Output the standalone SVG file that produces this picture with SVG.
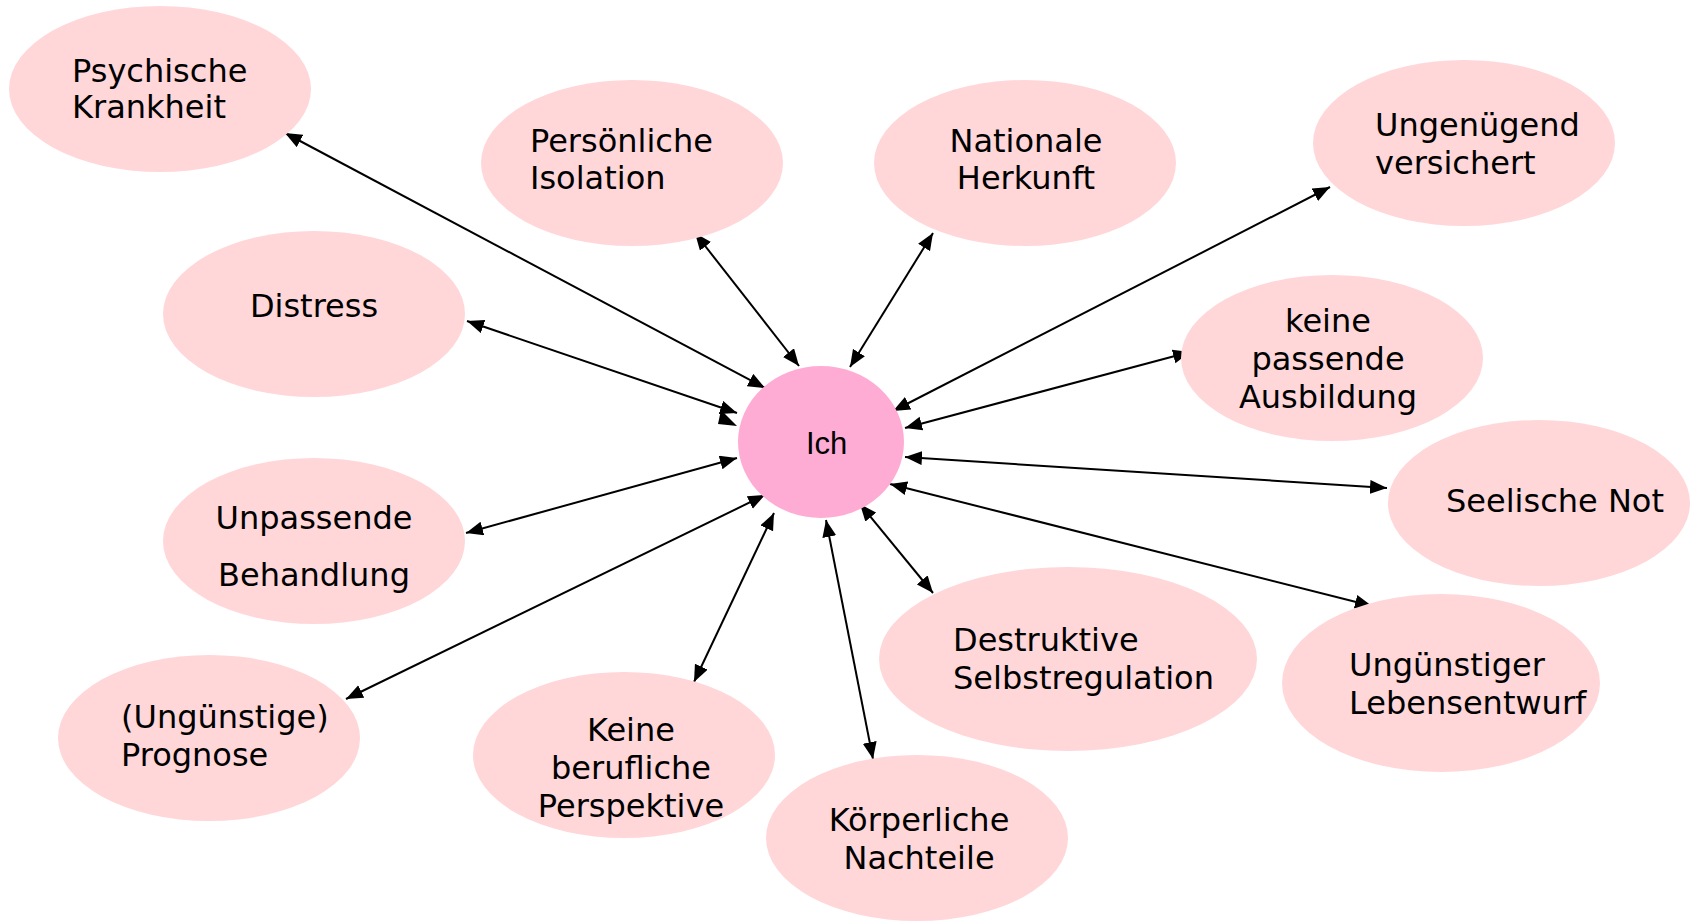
<svg xmlns="http://www.w3.org/2000/svg" width="1696" height="921" viewBox="0 0 1696 921">
<defs>
<style>
.n{fill:#FFD7D9}
.c{fill:#FFACD5}
.t{font-family:"DejaVu Sans",Verdana,sans-serif;font-size:32px;fill:#000}
.m{text-anchor:middle}
.i{font-family:"Liberation Sans",Arial,sans-serif;font-size:31px;fill:#000}
.e{stroke:#000;stroke-width:2;fill:none;marker-start:url(#ah);marker-end:url(#ah)}
</style>
<marker id="ah" markerUnits="userSpaceOnUse" markerWidth="18" markerHeight="15" refX="17" refY="7" orient="auto-start-reverse">
<path d="M0,0 L17,7 L0,14 z" fill="#000"/>
</marker>
</defs>
<rect width="1696" height="921" fill="#fff"/>
<g id="connectors">
<line class="e" x1="285" y1="133" x2="765" y2="388"/>
<line class="e" x1="695" y1="233" x2="799" y2="366"/>
<line class="e" x1="933" y1="233" x2="850" y2="367"/>
<line class="e" x1="1330" y1="187" x2="893" y2="411"/>
<line class="e" x1="1190" y1="352" x2="905" y2="428"/>
<line class="e" x1="1387" y1="488" x2="905" y2="457"/>
<line class="e" x1="1372" y1="606" x2="890" y2="484"/>
<line class="e" x1="933" y1="593" x2="860" y2="504"/>
<line class="e" x1="873" y1="759" x2="826" y2="520"/>
<line class="e" x1="694" y1="682" x2="774" y2="513"/>
<line class="e" x1="346" y1="699" x2="765" y2="495"/>
<line class="e" x1="466" y1="533" x2="737" y2="458"/>
<line class="e" x1="467" y1="321" x2="737" y2="413"/>
<path d="M721,410 L737,426 L718,424 z" fill="#000"/>
</g>
<g id="n-ich"><ellipse class="c" cx="821" cy="442" rx="83" ry="76"/><text class="i" x="806" y="454">Ich</text></g>
<g id="n-psychische"><ellipse class="n" cx="160" cy="89" rx="151" ry="83"/><text class="t" x="72" y="82">Psychische</text><text class="t" x="72" y="118">Krankheit</text></g>
<g id="n-persoenliche"><ellipse class="n" cx="632" cy="163" rx="151" ry="83"/><text class="t" x="530" y="152">Persönliche</text><text class="t" x="530" y="189">Isolation</text></g>
<g id="n-nationale"><ellipse class="n" cx="1025" cy="163" rx="151" ry="83"/><text class="t m" x="1026" y="152">Nationale</text><text class="t m" x="1026" y="189">Herkunft</text></g>
<g id="n-ungenuegend"><ellipse class="n" cx="1464" cy="143" rx="151" ry="83"/><text class="t" x="1375" y="136">Ungenügend</text><text class="t" x="1375" y="174">versichert</text></g>
<g id="n-distress"><ellipse class="n" cx="314" cy="314" rx="151" ry="83"/><text class="t m" x="314" y="317">Distress</text></g>
<g id="n-ausbildung"><ellipse class="n" cx="1332" cy="358" rx="151" ry="83"/><text class="t m" x="1328" y="332">keine</text><text class="t m" x="1328" y="370">passende</text><text class="t m" x="1328" y="408">Ausbildung</text></g>
<g id="n-seelische"><ellipse class="n" cx="1539" cy="503" rx="151" ry="83"/><text class="t" x="1446" y="512">Seelische Not</text></g>
<g id="n-unpassende"><ellipse class="n" cx="314" cy="541" rx="151" ry="83"/><text class="t m" x="314" y="529">Unpassende</text><text class="t m" x="314" y="586">Behandlung</text></g>
<g id="n-prognose"><ellipse class="n" cx="209" cy="738" rx="151" ry="83"/><text class="t" x="121" y="728">(Ungünstige)</text><text class="t" x="121" y="766">Prognose</text></g>
<g id="n-perspektive"><ellipse class="n" cx="624" cy="755" rx="151" ry="83"/><text class="t m" x="631" y="741">Keine</text><text class="t m" x="631" y="779">berufliche</text><text class="t m" x="631" y="817">Perspektive</text></g>
<g id="n-koerperliche"><ellipse class="n" cx="917" cy="838" rx="151" ry="83"/><text class="t m" x="919" y="831">Körperliche</text><text class="t m" x="919" y="869">Nachteile</text></g>
<g id="n-destruktive"><ellipse class="n" cx="1068" cy="659" rx="189" ry="92"/><text class="t" x="953" y="651">Destruktive</text><text class="t" x="953" y="689">Selbstregulation</text></g>
<g id="n-lebensentwurf"><ellipse class="n" cx="1441" cy="683" rx="159" ry="89"/><text class="t" x="1349" y="676">Ungünstiger</text><text class="t" x="1349" y="714">Lebensentwurf</text></g>
</svg>
